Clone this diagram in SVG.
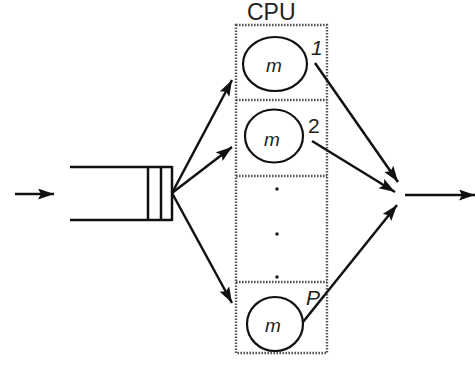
<svg xmlns="http://www.w3.org/2000/svg" width="475" height="365" viewBox="0 0 475 365">
  <style>
    .ln { fill: none; stroke: #111; stroke-width: 2.5; }
    .arr { fill: none; stroke: #111; stroke-width: 2.5; marker-end: url(#ah); }
    .dot { fill: none; stroke: #555; stroke-width: 2.4; stroke-dasharray: 1.6 1.4; }
    .srv { fill: #fff; stroke: #111; stroke-width: 2.2; }
    .t { font-family: "Liberation Sans", Arial, sans-serif; fill: #222; }
    .m { font-size: 19px; font-style: italic; text-anchor: middle; }
    .lab { font-size: 21px; }
  </style>
  <defs>
    <marker id="ah" markerUnits="userSpaceOnUse" markerWidth="18" markerHeight="12" refX="16" refY="5.5" orient="auto">
      <path d="M0,0 L16,5.5 L0,11 L3,5.5 Z" fill="#111"/>
    </marker>
  </defs>

  <!-- CPU enclosure with processor slots -->
  <g id="cpu">
    <text class="t" x="247" y="20" font-size="23">CPU</text>
    <rect class="dot" x="236" y="25" width="91" height="328"/>
    <line class="dot" x1="236" y1="100" x2="327" y2="100"/>
    <line class="dot" x1="236" y1="176" x2="327" y2="176"/>
    <line class="dot" x1="236" y1="282" x2="327" y2="282"/>
    <circle cx="277" cy="189" r="1.8" fill="#222"/>
    <circle cx="277" cy="234" r="1.8" fill="#222"/>
    <circle cx="277" cy="277" r="1.8" fill="#222"/>
  </g>

  <g id="server1">
    <ellipse class="srv" cx="275" cy="64" rx="32" ry="27"/>
    <text class="t m" x="274" y="72">m</text>
    <text class="t lab" x="311" y="55" font-style="italic">1</text>
  </g>

  <g id="server2">
    <ellipse class="srv" cx="274" cy="136" rx="29" ry="26.5"/>
    <text class="t m" x="272" y="146">m</text>
    <text class="t lab" x="308" y="133">2</text>
  </g>

  <g id="serverP">
    <ellipse class="srv" cx="275" cy="324" rx="28" ry="27"/>
    <text class="t m" x="273" y="332">m</text>
    <text class="t lab" x="306" y="305" font-style="italic">P</text>
  </g>

  <!-- waiting queue -->
  <g id="queue">
    <line class="ln" x1="70" y1="167" x2="172" y2="167"/>
    <line class="ln" x1="70" y1="220" x2="172" y2="220"/>
    <line class="ln" x1="148" y1="167" x2="148" y2="220"/>
    <line class="ln" x1="161" y1="167" x2="161" y2="220"/>
    <line class="ln" x1="172" y1="166" x2="172" y2="221"/>
  </g>

  <g id="connectors">
    <line class="arr" x1="15" y1="194" x2="54" y2="194"/>
    <line class="arr" x1="172" y1="193" x2="232" y2="80"/>
    <line class="arr" x1="172" y1="193" x2="232" y2="147"/>
    <line class="arr" x1="172" y1="193" x2="232" y2="303"/>
    <line class="arr" x1="315" y1="63" x2="398" y2="182"/>
    <line class="arr" x1="312" y1="141" x2="395" y2="192"/>
    <line class="arr" x1="303" y1="322" x2="397" y2="205"/>
    <line class="arr" x1="405" y1="195" x2="475" y2="195"/>
  </g>
</svg>
